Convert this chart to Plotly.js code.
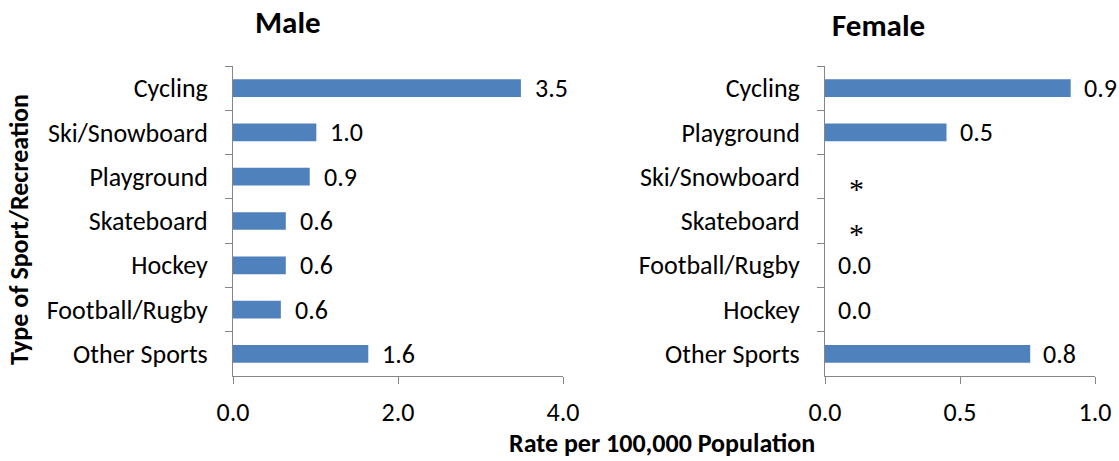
<!DOCTYPE html>
<html>
<head>
<meta charset="utf-8">
<script src="https://cdn.plot.ly/plotly-3.0.1.min.js"></script>
<style>html,body{margin:0;padding:0;background:#fff;}#chart{width:1119px;height:461px;}</style>
</head>
<body>
<div id="chart"></div>
<script>
const maleCategories = ["Cycling", "Ski/Snowboard", "Playground", "Skateboard", "Hockey", "Football/Rugby", "Other Sports"];
const maleValues = [3.49, 1.01, 0.93, 0.64, 0.64, 0.58, 1.64];
const maleLabels = ["3.5", "1.0", "0.9", "0.6", "0.6", "0.6", "1.6"];

const femaleCategories = ["Cycling", "Playground", "Ski/Snowboard", "Skateboard", "Football/Rugby", "Hockey", "Other Sports"];
const femaleValues = [0.91, 0.45, null, null, 0, 0, 0.76];
const femaleLabels = ["0.9", "0.5", "*", "*", "0.0", "0.0", "0.8"];

const maleTicks = [0, 2, 4];
const maleTickText = ["0.0", "2.0", "4.0"];
const femaleTicks = [0, 0.5, 1];
const femaleTickText = ["0.0", "0.5", "1.0"];

const FONT = "Carlito, Calibri, Lato, sans-serif";
const BAR = "#4F81BD";
const AXIS = "#868686";
const W = 1119, H = 461, MT = 66, MB = 85;
const px = x => x / W;
const py = y => (H - MB - y) / (H - MT - MB);

const traces = [
  {type: "bar", orientation: "h", x: maleValues, y: maleCategories, xaxis: "x", yaxis: "y",
   marker: {color: BAR}, width: 0.4, hoverinfo: "skip"},
  {type: "bar", orientation: "h", x: femaleValues, y: femaleCategories, xaxis: "x2", yaxis: "y2",
   marker: {color: BAR}, width: 0.4, hoverinfo: "skip"}
];

const annotations = [];
maleCategories.forEach((c, i) => {
  annotations.push({xref: "x", yref: "y", x: maleValues[i], y: c, text: maleLabels[i],
    showarrow: false, xanchor: "left", xshift: 12, font: {family: FONT, size: 26, color: "#000"}});
});
femaleCategories.forEach((c, i) => {
  const star = femaleLabels[i] === "*";
  annotations.push({xref: "x2", yref: "y2", x: star ? 0 : femaleValues[i], y: c, text: femaleLabels[i],
    showarrow: false, xanchor: star ? "center" : "left", xshift: star ? 31 : 11, yshift: star ? -12 : 0,
    font: {family: star ? "Liberation Serif, serif" : FONT, size: star ? 30 : 26, color: "#000"}});
});
annotations.push({xref: "paper", yref: "paper", x: px(288), y: py(22), text: "<b>Male</b>",
  showarrow: false, xanchor: "center", yanchor: "middle", font: {family: FONT, size: 31, color: "#000"}});
annotations.push({xref: "paper", yref: "paper", x: px(878), y: py(25), text: "<b>Female</b>",
  showarrow: false, xanchor: "center", yanchor: "middle", font: {family: FONT, size: 31, color: "#000"}});
annotations.push({xref: "paper", yref: "paper", x: px(19), y: py(230), text: "<b>Type of Sport/Recreation</b>",
  showarrow: false, textangle: -90, xanchor: "center", yanchor: "middle", font: {family: FONT, size: 26, color: "#000"}});
annotations.push({xref: "paper", yref: "paper", x: px(662), y: py(443), text: "<b>Rate per 100,000 Population</b>",
  showarrow: false, xanchor: "center", yanchor: "middle", font: {family: FONT, size: 26, color: "#000"}});

const xCommon = {showgrid: false, zeroline: false, showline: true, linecolor: AXIS, linewidth: 1,
  ticks: "outside", ticklen: 7, tickcolor: AXIS, tickfont: {family: FONT, size: 26, color: "#000"},
  tickmode: "array", fixedrange: true, ticklabelstandoff: 6};
const yCommon = {type: "category", showgrid: false, zeroline: false, showline: true, linecolor: AXIS, linewidth: 1,
  ticks: "outside", ticklen: 7, tickcolor: AXIS, tickson: "boundaries", range: [6.5, -0.5],
  tickfont: {family: FONT, size: 26, color: "#000"}, fixedrange: true, ticklabelstandoff: 19};

const layout = {
  width: W, height: H,
  margin: {l: 0, r: 0, t: MT, b: MB},
  paper_bgcolor: "#fff", plot_bgcolor: "#fff",
  showlegend: false,
  xaxis: Object.assign({}, xCommon, {domain: [px(233), px(563)], range: [0, 4], tickvals: maleTicks, ticktext: maleTickText, anchor: "y"}),
  yaxis: Object.assign({}, yCommon, {anchor: "x", categoryarray: maleCategories, categoryorder: "array"}),
  xaxis2: Object.assign({}, xCommon, {domain: [px(825), px(1095)], range: [0, 1], tickvals: femaleTicks, ticktext: femaleTickText, anchor: "y2"}),
  yaxis2: Object.assign({}, yCommon, {anchor: "x2", categoryarray: femaleCategories, categoryorder: "array"}),
  annotations: annotations
};

Plotly.newPlot("chart", traces, layout, {displayModeBar: false, staticPlot: true});
</script>
</body>
</html>
